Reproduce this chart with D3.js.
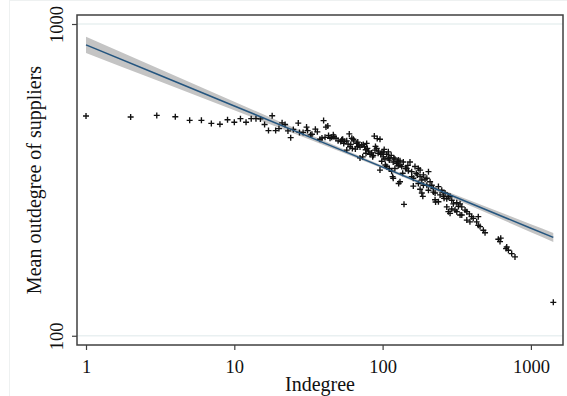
<!DOCTYPE html>
<html>
<head>
<meta charset="utf-8">
<script src="https://cdn.jsdelivr.net/npm/d3@7"></script>
<style>
  html, body { margin: 0; padding: 0; background: #fff; }
  svg { display: block; font-family: "Liberation Serif", "Times New Roman", serif; }
</style>
</head>
<body>
<div id="chart"></div>
<script>
// Data
const indegree = [
  1, 2, 3, 4, 5, 6, 7, 8, 9, 10, 11, 12, 13, 14, 15, 16, 17, 18, 19, 20, 21, 22, 23, 24, 25,
  27, 27.5, 29.1, 30.7, 31.2, 32.7, 33.4, 35.2, 36.3, 37.8, 39, 40, 41.5, 42.7, 43.2, 44.2,
  45.4, 46.5, 47, 48.5, 50.1, 52.2, 53.8, 55.2, 57.3, 59.6, 62, 63.5, 61, 62.5, 65.5, 67.6, 69.1,
  70.4, 72.3, 74.1, 75.7, 76.9, 78.9, 80.6, 82.2, 84.4, 86.5, 87.9, 70.4, 73.4, 57.3, 60.3, 66.9,
  78.1, 77.3, 85.7, 88.8,
  91.2, 92, 94.1, 96, 97.1, 99, 101.1, 103.7, 106.6, 109.3, 112, 114.3, 117.9, 121, 124.3, 127.5,
  98.6, 104.3, 111, 115, 111, 96, 106.6, 121, 127.5, 131, 116.8, 128.3, 136.6, 145.4, 153, 157.1,
  161.1, 165.3, 171.4, 179, 139.4, 137.9, 134.5, 149.1, 174.2, 157.1, 131, 109.3,
  179, 188.4, 193.4, 203.8, 209, 174.2, 161.1, 179, 183.8, 186.7, 188.4, 198.7, 203.8, 214.6, 220,
  220, 225.8, 237.9, 244, 250.5, 256.9, 263.7, 270.8, 277.7, 285, 292.6, 225.8, 237.9, 300, 316.3,
  324.4, 333, 341.9, 270.8, 277.7, 292.6, 308, 333, 316.3, 369.6, 385, 398.4, 369.6, 388, 408.4,
  430.6, 441.7, 454, 478, 490.6, 441.7, 359.8, 341.9, 285,
  40.9, 54.7, 53, 64, 101.1, 93.3, 117.9, 227.6, 259.7, 277.7, 198.7, 183.8, 168.7, 131, 142.8,
  58.5, 68, 89.5, 102.5, 119, 126, 148,
  603, 619, 626, 680, 687, 705, 742, 781, 1416
];
const meanOutdegree = [
  507, 503, 509, 504, 491, 491, 480, 477, 493, 484, 497, 484, 497, 497, 496, 476, 455, 508, 455, 462, 482, 476, 454, 432, 459,
  481, 449, 449, 467, 455, 441, 443, 460, 451, 427, 431, 490, 467, 471, 439, 430,
  433, 441, 435, 430, 422, 420, 427, 420, 422, 444, 430, 427, 411, 399, 397, 404, 409,
  403, 409, 411, 404, 395, 399, 391, 382, 386, 379, 437, 372, 375, 394, 404, 414,
  414, 385, 375, 394,
  399, 429, 391, 427, 382, 386, 375, 369, 382, 389, 372, 379, 361, 369, 357, 351,
  363, 353, 344, 337, 366, 340, 349, 344, 366, 353, 324, 308, 332, 344, 361, 336,
  320, 349, 328, 340, 264, 361, 349, 338, 344, 324, 312, 371,
  324, 328, 318, 336, 312, 308, 302, 295, 287, 280, 304, 304, 293, 304, 289,
  297, 287, 301, 283, 293, 280, 287, 275, 280, 280, 272, 273, 269, 265, 267,
  260, 265, 259, 259, 250, 255, 253, 244, 250, 250, 246, 241, 235, 232, 238,
  232, 226, 224, 218, 214, 241, 253, 244, 247,
  433, 414, 425, 422, 389, 385, 320, 268.6, 276, 279.5, 320, 316, 332, 364, 344,
  412, 418, 405, 396, 372, 362, 352,
  204, 200.5, 205.6, 190.4, 192.6, 188, 183.5, 179, 128
];

// Linear fit of log(y) on log(x) with its 95% band
const fitX = [1, 3, 10, 30, 100, 300, 1000, 1416];
const fitY = [857, 691, 545.8, 440.2, 347.5, 280.3, 221.3, 206.8];
const ciLo = [807.6, 659.9, 528.7, 431.5, 343.7, 275.7, 214.9, 200.0];
const ciHi = [909.6, 723.6, 563.5, 448.9, 351.3, 284.9, 227.9, 213.7];

const xTicks = [1, 10, 100, 1000];
const yTicks = [100, 1000];
const xTitle = "Indegree";
const yTitle = "Mean outdegree of suppliers";

// Dimensions
const dims = { width: 567, height: 396, left: 77, right: 563, top: 15, bottom: 345 };
const serif = "'Liberation Serif', 'Times New Roman', serif";

const svg = d3.select("#chart").append("svg")
  .attr("width", dims.width)
  .attr("height", dims.height);

// faint outer graph-region outline
svg.append("rect")
  .attr("x", 9.5).attr("y", 0.5)
  .attr("width", 700).attr("height", 700)
  .attr("fill", "none").attr("stroke", "#eef1f1");

// Scales
const xScale = d3.scaleLog().domain([0.8694, 1646]).range([dims.left, dims.right]);
const yScale = d3.scaleLog().domain([93.4, 1068.8]).range([dims.bottom, dims.top]);

// Gridlines
svg.append("g")
  .selectAll("line")
  .data(yTicks)
  .join("line")
  .attr("x1", dims.left).attr("x2", dims.right)
  .attr("y1", d => yScale(d)).attr("y2", d => yScale(d))
  .attr("stroke", "#e9f0f1")
  .attr("stroke-width", 1.6);

const fitData = fitX.map((x, i) => ({ x, y: fitY[i], lo: ciLo[i], hi: ciHi[i] }));

// CI band
const band = d3.area()
  .x(d => xScale(d.x))
  .y0(d => yScale(d.lo))
  .y1(d => yScale(d.hi))
  .curve(d3.curveMonotoneX);

svg.append("path")
  .datum(fitData)
  .attr("d", band)
  .attr("fill", "#c4c4c4");

// Scatter
const points = indegree.map((x, i) => ({ x, y: meanOutdegree[i] }));
svg.append("g")
  .selectAll("path")
  .data(points)
  .join("path")
  .attr("transform", d => `translate(${xScale(d.x)},${yScale(d.y)})`)
  .attr("d", "M-3,0H3M0,-3V3")
  .attr("stroke", "#111")
  .attr("stroke-width", 1.35)
  .attr("fill", "none");

// Fit line
const line = d3.line()
  .x(d => xScale(d.x))
  .y(d => yScale(d.y));

svg.append("path")
  .datum(fitData)
  .attr("d", line)
  .attr("fill", "none")
  .attr("stroke", "#24557f")
  .attr("stroke-width", 1.5);

// Frame
svg.append("rect")
  .attr("x", dims.left).attr("y", dims.top)
  .attr("width", dims.right - dims.left)
  .attr("height", dims.bottom - dims.top)
  .attr("fill", "none")
  .attr("stroke", "#404040")
  .attr("stroke-width", 1.5);

// Axes
const xAxis = d3.axisBottom(xScale).tickValues(xTicks).tickSize(5).tickFormat(d3.format("d"));
const yAxis = d3.axisLeft(yScale).tickValues(yTicks).tickSize(5).tickFormat(d3.format("d"));

const gx = svg.append("g")
  .attr("transform", `translate(0,${dims.bottom})`)
  .call(xAxis);
gx.select(".domain").remove();
gx.selectAll(".tick line").attr("stroke", "#404040").attr("stroke-width", 1.2);
gx.selectAll(".tick text")
  .attr("y", 27.5).attr("dy", 0)
  .attr("fill", "#111")
  .style("font-family", serif)
  .style("font-size", "18.5px");

const gy = svg.append("g")
  .attr("transform", `translate(${dims.left},0)`)
  .call(yAxis);
gy.select(".domain").remove();
gy.selectAll(".tick line").attr("stroke", "#404040").attr("stroke-width", 1.2);
gy.selectAll(".tick text")
  .attr("transform", "rotate(-90)")
  .attr("x", 0).attr("y", -14).attr("dy", 0)
  .attr("text-anchor", "middle")
  .attr("fill", "#111")
  .style("font-family", serif)
  .style("font-size", "18.5px");

// Titles
svg.append("text")
  .attr("x", (dims.left + dims.right) / 2)
  .attr("y", 391)
  .attr("text-anchor", "middle")
  .attr("fill", "#111")
  .style("font-family", serif)
  .style("font-size", "20px")
  .text(xTitle);

svg.append("text")
  .attr("transform", `translate(41,${(dims.top + dims.bottom) / 2}) rotate(-90)`)
  .attr("text-anchor", "middle")
  .attr("fill", "#111")
  .style("font-family", serif)
  .style("font-size", "20px")
  .text(yTitle);
</script>
</body>
</html>
